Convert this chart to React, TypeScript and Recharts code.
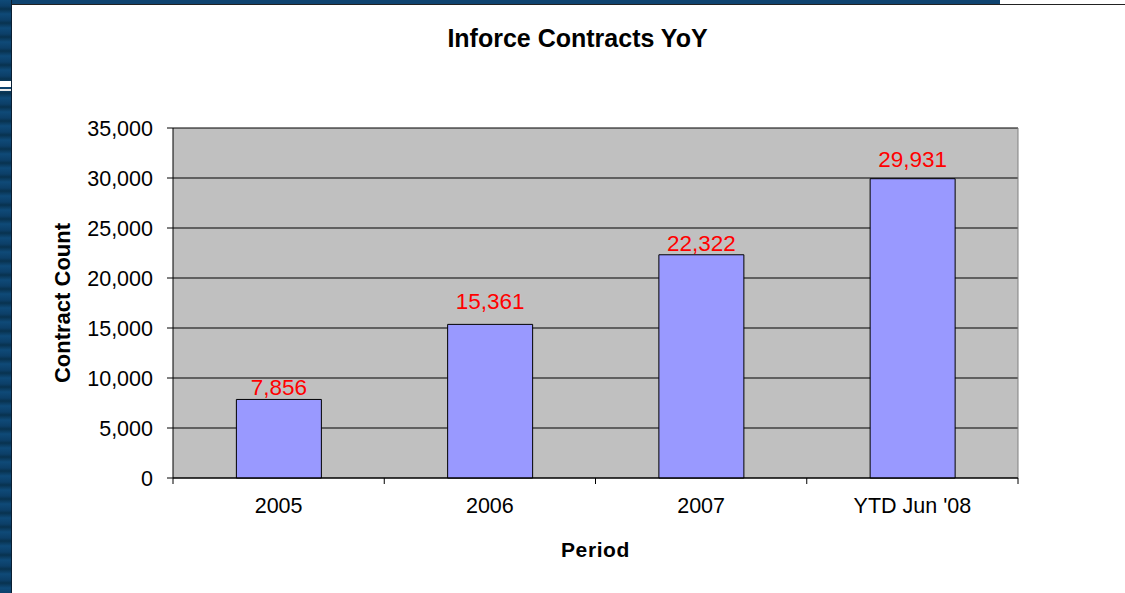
import { BarChart, Bar, XAxis, YAxis, CartesianGrid, LabelList } from "recharts";

const periods = ["2005", "2006", "2007", "YTD Jun '08"];
const contracts = [7856, 15361, 22322, 29931];
const yTicks = [0, 5000, 10000, 15000, 20000, 25000, 30000, 35000];
const edgeTicks = [0, 1, 2, 3, 4];
// gap between each value label and its bar, as in the original
const labelGaps = [4, 15, 4, 12];

const data = periods.map((p, i) => ({ period: p, contracts: contracts[i], slot: i + 0.5 }));

const fmt = (v: number) => Number(v).toLocaleString("en-US");
const font = "'Liberation Sans', Arial, sans-serif";

function YTitle({ viewBox }: any) {
  const cy = viewBox.y + viewBox.height / 2;
  return (
    <text
      x={62}
      y={cy}
      transform={`rotate(-90 62 ${cy})`}
      textAnchor="middle"
      dominantBaseline="central"
      style={{ fontFamily: font, fontSize: 22, fontWeight: "bold", fill: "#000" }}
    >
      Contract Count
    </text>
  );
}

function ValueLabel({ x, y, width, value, index }: any) {
  return (
    <text
      x={x + width / 2}
      y={y - labelGaps[index]}
      textAnchor="middle"
      style={{ fill: "#FF0000", fontFamily: font, fontSize: 22.5 }}
    >
      {fmt(value)}
    </text>
  );
}

const NoTick = () => <g />;

export default function App() {
  return (
    <div style={{ position: "fixed", left: 0, top: 0, width: 1125, height: 593, background: "#fff", overflow: "hidden" }}>
      {/* slide frame */}
      <div style={{ position: "absolute", left: 0, top: 0, width: 1000, height: 4, background: "#0f4470" }} />
      <div style={{ position: "absolute", left: 0, top: 4, width: 1125, height: 1, background: "#222" }} />
      <div
        style={{
          position: "absolute",
          left: 0,
          top: 0,
          width: 11,
          height: 593,
          background: "repeating-linear-gradient(180deg, #0f4a78 0px, #0c3f68 6px, #08324f 9px, #0f4a78 14px)",
        }}
      />
      <div style={{ position: "absolute", left: 11, top: 0, width: 1, height: 593, background: "#0a1f33" }} />
      <div style={{ position: "absolute", left: 0, top: 81, width: 11, height: 6, background: "#fff" }} />
      <div style={{ position: "absolute", left: 0, top: 89, width: 11, height: 2, background: "#e8e8e8" }} />

      <div
        style={{
          position: "absolute",
          left: 0,
          top: 26,
          width: 1155,
          textAlign: "center",
          fontFamily: font,
          fontSize: 25,
          lineHeight: "24px",
          fontWeight: "bold",
          color: "#000",
        }}
      >
        Inforce Contracts YoY
      </div>

      <div style={{ position: "absolute", left: 0, top: 0 }}>
        <BarChart
          width={1125}
          height={593}
          data={data}
          margin={{ top: 128, right: 107, left: 60, bottom: 0 }}
          barCategoryGap="30%"
        >
          <CartesianGrid fill="#C0C0C0" vertical={false} stroke="#000" />
          <CartesianGrid
            horizontal={false}
            fill="none"
            stroke="#808080"
            verticalCoordinatesGenerator={({ offset }: any) => [offset.left + offset.width]}
          />
          <XAxis
            xAxisId="a_edges"
            dataKey="slot"
            type="number"
            domain={[0, 4]}
            ticks={edgeTicks}
            interval={0}
            allowDataOverflow
            height={6}
            tick={<NoTick />}
            tickSize={6}
            tickMargin={0}
            axisLine={{ stroke: "#000" }}
            tickLine={{ stroke: "#000" }}
          />
          <XAxis
            xAxisId="b_cat"
            dataKey="period"
            height={109}
            axisLine={false}
            tickLine={false}
            tickSize={0}
            tickMargin={14}
            tick={{ fill: "#000", fontFamily: font, fontSize: 21.5 }}
            label={{
              value: "Period",
              position: "insideBottom",
              offset: 36,
              style: { fontFamily: font, fontSize: 21, fontWeight: "bold", fill: "#000", letterSpacing: 0.6 },
            }}
          />
          <YAxis
            width={113}
            domain={[0, 35000]}
            ticks={yTicks}
            interval={0}
            tickFormatter={fmt}
            tickSize={6}
            tickMargin={14}
            axisLine={{ stroke: "#000" }}
            tickLine={{ stroke: "#000" }}
            tick={{ fill: "#000", fontFamily: font, fontSize: 21.5 }}
            label={<YTitle />}
          />
          <Bar
            xAxisId="b_cat"
            dataKey="contracts"
            fill="#9999FF"
            stroke="#000"
            strokeWidth={1}
            isAnimationActive={false}
          >
            <LabelList dataKey="contracts" content={<ValueLabel />} />
          </Bar>
        </BarChart>
      </div>
    </div>
  );
}
